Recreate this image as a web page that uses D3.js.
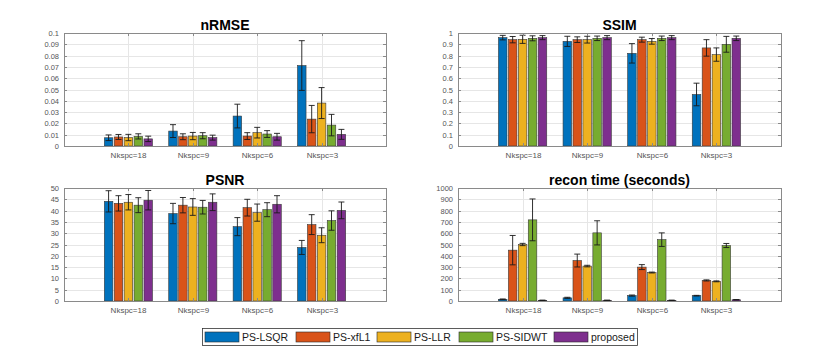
<!DOCTYPE html>
<html><head><meta charset="utf-8">
<script src="https://cdn.jsdelivr.net/npm/d3@7"></script>
<style>body{margin:0;background:#fff}svg{display:block;font-family:"Liberation Sans",Arial,sans-serif}</style>
</head><body><svg id="c" width="831" height="360"></svg>
<script>
const categories = ["Nkspc=18","Nkspc=9","Nkspc=6","Nkspc=3"];
const seriesNames = ["PS-LSQR","PS-xfL1","PS-LLR","PS-SIDWT","proposed"];
const colors = ["#0072BD","#D95319","#EDB120","#77AC30","#7E2F8E"];

// [series][group]
const nrmseMean = [[0.0073,0.0132,0.0265,0.0712],[0.0080,0.0082,0.0088,0.0238],[0.0075,0.0088,0.0118,0.0380],[0.0085,0.0091,0.0106,0.0185],[0.0063,0.0074,0.0082,0.0103]];
const nrmseErr  = [[0.0025,0.0057,0.0105,0.0220],[0.0022,0.0026,0.0030,0.0121],[0.0028,0.0032,0.0047,0.0137],[0.0023,0.0027,0.0030,0.0095],[0.0024,0.0022,0.0030,0.0044]];
const ssimMean = [[0.959,0.926,0.820,0.456],[0.941,0.941,0.941,0.868],[0.944,0.941,0.926,0.809],[0.953,0.953,0.953,0.900],[0.959,0.959,0.959,0.953]];
const ssimErr  = [[0.020,0.045,0.086,0.100],[0.028,0.025,0.022,0.073],[0.036,0.030,0.025,0.059],[0.022,0.020,0.020,0.070],[0.018,0.018,0.018,0.020]];
const psnrMean = [[44.1,38.7,32.9,23.7],[43.2,42.4,41.3,33.8],[43.7,41.6,39.1,29.1],[42.4,41.5,40.4,35.6],[44.6,43.7,42.8,40.1]];
const psnrErr  = [[4.7,4.5,4.0,3.1],[3.4,3.4,3.7,4.4],[3.4,3.7,3.8,3.3],[3.3,3.0,3.1,4.3],[4.3,3.7,3.8,3.7]];
const timeMean = [[15,28,48,47],[450,358,300,182],[500,309,252,174],[718,603,543,491],[6,6,6,11]];
const timeErr  = [[3,5,5,3],[130,57,22,5],[10,7,4,4],[185,107,60,18],[2,2,2,2]];

const nrmseTicks = [0,0.01,0.02,0.03,0.04,0.05,0.06,0.07,0.08,0.09,0.1];
const ssimTicks = [0,0.1,0.2,0.3,0.4,0.5,0.6,0.7,0.8,0.9,1];
const psnrTicks = [0,5,10,15,20,25,30,35,40,45,50];
const timeTicks = [0,100,200,300,400,500,600,700,800,900,1000];

const panels = [
  {title:"nRMSE", mean:nrmseMean, err:nrmseErr, ticks:nrmseTicks, box:[64,33,386,146], fmt:d=>d3.format("~g")(d)},
  {title:"SSIM", mean:ssimMean, err:ssimErr, ticks:ssimTicks, box:[458,33,781,146], fmt:d=>d3.format("~g")(d)},
  {title:"PSNR", mean:psnrMean, err:psnrErr, ticks:psnrTicks, box:[64,188,386,301], fmt:d=>d},
  {title:"recon time (seconds)", mean:timeMean, err:timeErr, ticks:timeTicks, box:[458,188,781,301], fmt:d=>d}
];

const svg = d3.select("#c");
const nS = seriesNames.length;
const groupWidth = Math.min(0.8, nS/(nS+1.5));
const pitch = groupWidth/nS;
const barW = pitch*0.86;

panels.forEach(p=>{
  const [x0,y0,x1,y1] = p.box;
  const x = d3.scaleLinear().domain([0,categories.length+1]).range([x0,x1]);
  const y = d3.scaleLinear().domain([p.ticks[0], p.ticks[p.ticks.length-1]]).range([y1,y0]);
  const g = svg.append("g");
  // grid
  g.selectAll(".hg").data(p.ticks).join("line")
    .attr("x1",x0).attr("x2",x1).attr("y1",d=>Math.round(y(d))+0.5).attr("y2",d=>Math.round(y(d))+0.5)
    .attr("stroke","#e6e6e6").attr("stroke-width",1);
  g.selectAll(".vg").data(categories).join("line")
    .attr("x1",(d,i)=>Math.round(x(i+1))+0.5).attr("x2",(d,i)=>Math.round(x(i+1))+0.5).attr("y1",y0).attr("y2",y1)
    .attr("stroke","#e6e6e6").attr("stroke-width",1);
  // bars
  p.mean.forEach((vals,s)=>{
    const off = -groupWidth/2 + pitch*(s+0.5);
    g.selectAll(".b"+s).data(vals).join("rect")
      .attr("x",(d,i)=>x(i+1+off-barW/2)).attr("width",x(barW)-x(0))
      .attr("y",d=>y(d)).attr("height",d=>y(0)-y(d))
      .attr("fill",colors[s]).attr("stroke","#3a3a3a").attr("stroke-width",0.6);
  });
  // error bars
  p.mean.forEach((vals,s)=>{
    const off = -groupWidth/2 + pitch*(s+0.5);
    vals.forEach((v,i)=>{
      const cx = x(i+1+off), e = p.err[s][i];
      const lo = y(v-e), hi = y(v+e);
      g.append("line").attr("x1",cx).attr("x2",cx).attr("y1",lo).attr("y2",hi).attr("stroke","#1a1a1a").attr("stroke-width",0.9);
      [lo,hi].forEach(yy=>g.append("line").attr("x1",cx-3).attr("x2",cx+3).attr("y1",yy).attr("y2",yy).attr("stroke","#1a1a1a").attr("stroke-width",0.9));
    });
  });
  // box
  g.append("rect").attr("x",x0+0.5).attr("y",y0+0.5).attr("width",x1-x0).attr("height",y1-y0)
    .attr("fill","none").attr("stroke","#8a8a8a").attr("stroke-width",1);
  // y ticks
  const yt = g.selectAll(".yt").data(p.ticks).join("g").attr("transform",d=>`translate(0,${Math.round(y(d))+0.5})`);
  yt.append("line").attr("x1",x0).attr("x2",x0+3).attr("stroke","#8a8a8a");
  yt.append("line").attr("x1",x1-3).attr("x2",x1).attr("stroke","#8a8a8a");
  yt.append("text").attr("x",x0-5).attr("dy","0.35em").attr("text-anchor","end")
    .attr("font-size",7.5).attr("fill","#555").text(p.fmt);
  // x ticks
  const xt = g.selectAll(".xt").data(categories).join("g").attr("transform",(d,i)=>`translate(${Math.round(x(i+1))+0.5},0)`);
  xt.append("line").attr("y1",y1).attr("y2",y1-3).attr("stroke","#8a8a8a");
  xt.append("line").attr("y1",y0).attr("y2",y0+3).attr("stroke","#8a8a8a");
  xt.append("text").attr("y",y1+12).attr("text-anchor","middle").attr("font-size",8).attr("fill","#555").text(d=>d);
  // title
  g.append("text").attr("x",(x0+x1)/2).attr("y",y0-3.5).attr("text-anchor","middle")
    .attr("font-size",14).attr("font-weight","bold").attr("fill","#000").text(p.title);
});

// legend
const leg = svg.append("g");
leg.append("rect").attr("x",202.5).attr("y",328.5).attr("width",435).attr("height",17)
  .attr("fill","#fff").attr("stroke","#333").attr("stroke-width",0.8);
const legX = [205,296,377,459,554];
seriesNames.forEach((n,i)=>{
  leg.append("rect").attr("x",legX[i]).attr("y",332).attr("width",34).attr("height",10)
    .attr("fill",colors[i]).attr("stroke","#2a2a2a").attr("stroke-width",0.6);
  leg.append("text").attr("x",legX[i]+37).attr("y",341).attr("font-size",10.5).attr("fill","#1a1a1a").text(n);
});
</script></body></html>
